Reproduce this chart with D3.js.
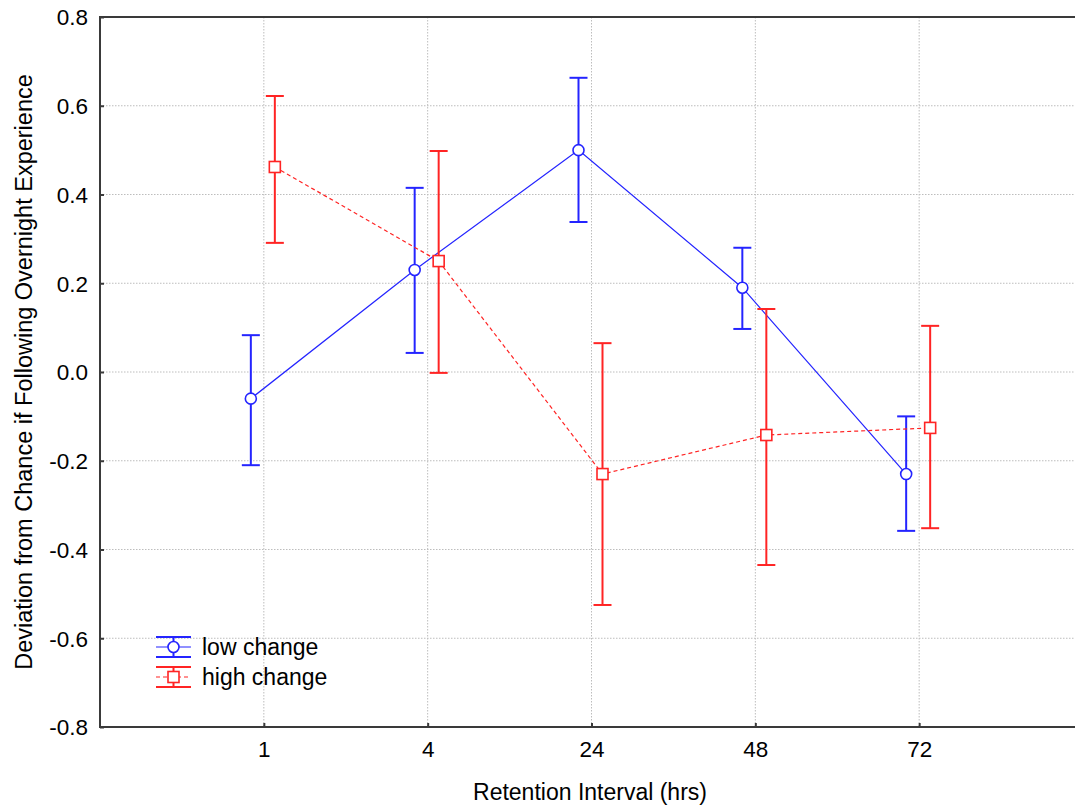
<!DOCTYPE html>
<html>
<head>
<meta charset="utf-8">
<script src="https://cdn.jsdelivr.net/npm/d3@7"></script>
<style>
  html, body { margin: 0; padding: 0; background: #fff; }
  svg { display: block; font-family: "Liberation Sans", Arial, sans-serif; }
</style>
</head>
<body>
<svg id="chart" width="1075" height="807"></svg>
<script>
// Retention intervals (hrs)
const categories = ["1", "4", "24", "48", "72"];

// Low change group: mean and error-bar bounds
const lowMean  = [-0.06, 0.23, 0.50, 0.19, -0.23];
const lowUpper = [0.083, 0.415, 0.663, 0.28, -0.10];
const lowLower = [-0.21, 0.043, 0.338, 0.097, -0.358];

// High change group: mean and error-bar bounds
const highMean  = [0.462, 0.25, -0.23, -0.142, -0.126];
const highUpper = [0.622, 0.498, 0.065, 0.142, 0.104];
const highLower = [0.291, -0.002, -0.525, -0.435, -0.352];

const yTicks = [-0.8, -0.6, -0.4, -0.2, 0.0, 0.2, 0.4, 0.6, 0.8];

const margin = { left: 100, top: 17, bottom: 727, right: 1083 };
const svg = d3.select("#chart");
const fontPx = "22.5px";

const x = d3.scalePoint()
  .domain(categories)
  .range([margin.left, margin.right])
  .padding(1);

const y = d3.scaleLinear()
  .domain([-0.8, 0.8])
  .range([margin.bottom, margin.top]);

const gridColor = "#bdbdbd";
const frameColor = "#3a3a3a";

// Grid lines
svg.append("g").selectAll("line.hgrid")
  .data(yTicks.slice(1, -1))
  .join("line")
  .attr("x1", margin.left).attr("x2", margin.right)
  .attr("y1", d => y(d)).attr("y2", d => y(d))
  .attr("stroke", gridColor).attr("stroke-width", 1)
  .attr("stroke-dasharray", "1.5,1.5");

svg.append("g").selectAll("line.vgrid")
  .data(categories)
  .join("line")
  .attr("x1", d => x(d)).attr("x2", d => x(d))
  .attr("y1", margin.top).attr("y2", margin.bottom)
  .attr("stroke", gridColor).attr("stroke-width", 1)
  .attr("stroke-dasharray", "1.5,1.5");

// Axes with inward ticks; plain hyphen for negatives
const fmt = d => d3.format(".1f")(d).replace("\u2212", "-");
const yAxis = d3.axisLeft(y).tickValues(yTicks).tickFormat(fmt)
  .tickSizeInner(-4).tickSizeOuter(0).tickPadding(12);
const gy = svg.append("g").attr("transform", `translate(${margin.left},0)`).call(yAxis);

const xAxis = d3.axisBottom(x).tickSizeInner(-4).tickSizeOuter(0).tickPadding(14);
const gx = svg.append("g").attr("transform", `translate(0,${margin.bottom})`).call(xAxis);

[gy, gx].forEach(g => {
  g.attr("font-size", null).attr("font-family", null);
  g.select(".domain").remove();
  g.selectAll(".tick line").attr("stroke", frameColor).attr("stroke-width", 2);
  g.selectAll(".tick text").attr("fill", "#000").style("font-size", fontPx);
});
gy.selectAll(".tick text").attr("dy", "0.35em");

// Frame
svg.append("rect")
  .attr("x", margin.left).attr("y", margin.top)
  .attr("width", margin.right - margin.left)
  .attr("height", margin.bottom - margin.top)
  .attr("fill", "none").attr("stroke", frameColor).attr("stroke-width", 2);

// Axis titles
svg.append("text")
  .attr("x", 590).attr("y", 800)
  .attr("text-anchor", "middle").style("font-size", "23px")
  .text("Retention Interval (hrs)");

svg.append("text")
  .attr("transform", `translate(32,${(margin.top + margin.bottom) / 2}) rotate(-90)`)
  .attr("text-anchor", "middle").style("font-size", "23.5px")
  .text("Deviation from Chance if Following Overnight Experience");

const series = [
  { name: "low change", mean: lowMean, upper: lowUpper, lower: lowLower,
    color: "#2424ff", offset: -13, dash: null, marker: "circle" },
  { name: "high change", mean: highMean, upper: highUpper, lower: highLower,
    color: "#ff2424", offset: 11, dash: "4,3", marker: "square" }
];

const capHalf = 9;

series.forEach(s => {
  const g = svg.append("g");
  const pts = categories.map((c, i) => ({
    x: x(c) + s.offset, m: s.mean[i], u: s.upper[i], l: s.lower[i]
  }));

  // Connecting line
  g.append("path")
    .datum(pts)
    .attr("d", d3.line().x(d => d.x).y(d => y(d.m)))
    .attr("fill", "none").attr("stroke", s.color).attr("stroke-width", 1.2)
    .attr("stroke-dasharray", s.dash);

  // Error bars
  g.selectAll("line.whisker").data(pts).join("line")
    .attr("x1", d => d.x).attr("x2", d => d.x)
    .attr("y1", d => y(d.u)).attr("y2", d => y(d.l))
    .attr("stroke", s.color).attr("stroke-width", 2);
  g.selectAll("line.capU").data(pts).join("line")
    .attr("x1", d => d.x - capHalf).attr("x2", d => d.x + capHalf)
    .attr("y1", d => y(d.u)).attr("y2", d => y(d.u))
    .attr("stroke", s.color).attr("stroke-width", 2);
  g.selectAll("line.capL").data(pts).join("line")
    .attr("x1", d => d.x - capHalf).attr("x2", d => d.x + capHalf)
    .attr("y1", d => y(d.l)).attr("y2", d => y(d.l))
    .attr("stroke", s.color).attr("stroke-width", 2);

  // Markers
  if (s.marker === "circle") {
    g.selectAll("circle").data(pts).join("circle")
      .attr("cx", d => d.x).attr("cy", d => y(d.m)).attr("r", 5.5)
      .attr("fill", "#fff").attr("stroke", s.color).attr("stroke-width", 1.6);
  } else {
    g.selectAll("rect").data(pts).join("rect")
      .attr("x", d => d.x - 5.5).attr("y", d => y(d.m) - 5.5)
      .attr("width", 11).attr("height", 11)
      .attr("fill", "#fff").attr("stroke", s.color).attr("stroke-width", 1.6);
  }
});

// Legend
const legend = svg.append("g");
series.forEach((s, i) => {
  const cy = 647 + i * 30;
  const x0 = 156, x1 = 191, cx = 173.5;
  const lg = legend.append("g");
  lg.append("line").attr("x1", x0).attr("x2", x1).attr("y1", cy).attr("y2", cy)
    .attr("stroke", s.color).attr("stroke-width", 1.2).attr("stroke-dasharray", s.dash);
  lg.append("line").attr("x1", cx).attr("x2", cx).attr("y1", cy - 10).attr("y2", cy + 10)
    .attr("stroke", s.color).attr("stroke-width", 2);
  [cy - 10, cy + 10].forEach(yy => {
    lg.append("line").attr("x1", x0).attr("x2", x1).attr("y1", yy).attr("y2", yy)
      .attr("stroke", s.color).attr("stroke-width", 2);
  });
  if (s.marker === "circle") {
    lg.append("circle").attr("cx", cx).attr("cy", cy).attr("r", 5.5)
      .attr("fill", "#fff").attr("stroke", s.color).attr("stroke-width", 1.6);
  } else {
    lg.append("rect").attr("x", cx - 5.5).attr("y", cy - 5.5).attr("width", 11).attr("height", 11)
      .attr("fill", "#fff").attr("stroke", s.color).attr("stroke-width", 1.6);
  }
  lg.append("text").attr("x", 202).attr("y", cy + 8)
    .style("font-size", "23px").text(s.name);
});
</script>
</body>
</html>
